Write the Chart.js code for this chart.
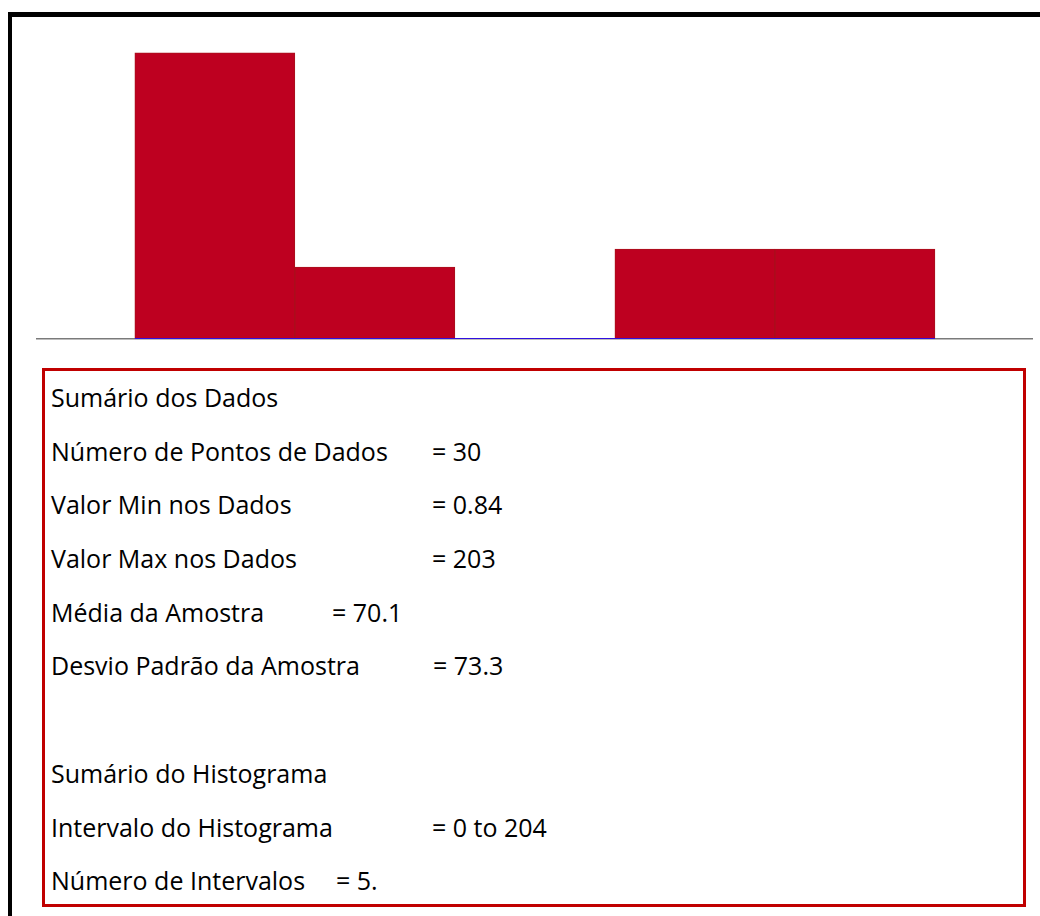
<!DOCTYPE html>
<html>
<head>
<meta charset="utf-8">
<script src="https://cdn.jsdelivr.net/npm/chart.js@4/dist/chart.umd.min.js"></script>
<style>
    html, body { margin: 0; padding: 0; background: #fff; width: 1040px; height: 916px; overflow: hidden; }
    #moldura { position: absolute; left: 8px; top: 12px; width: 1100px; height: 1000px;
        border-top: 5px solid #000; border-left: 4px solid #000; }
    #grafico { position: absolute; left: 36px; top: 17px; }
    #sumario { position: absolute; left: 42px; top: 368px; width: 978px; height: 533px;
        border: 3px solid #c00000; font-family: "Open Sans", sans-serif; font-size: 25px; color: #000; }
    .linha { position: relative; height: 53.7px; line-height: 53.7px; white-space: nowrap; }
    .rotulo { position: absolute; left: 6px; }
    .valor { position: absolute; }
</style>
</head>
<body>
<div id="moldura"></div>
<canvas id="grafico" width="997" height="324"></canvas>
<div id="sumario"></div>

<script>
// Limites das classes do histograma (0 a 204, 5 intervalos)
const limitesClasses = [0, 40.8, 81.6, 122.4, 163.2, 204];
const frequencias = [16, 4, 0, 5, 5];

// Sumário dos dados
const numeroPontos = 30;
const valorMin = '0.84';
const valorMax = '203';
const mediaAmostra = '70.1';
const desvioPadrao = '73.3';
const intervaloHistograma = '0 to 204';
const numeroIntervalos = '5.';

// linhas do quadro: [rótulo, valor, posição x do valor]
const linhasSumario = [
    ['Sumário dos Dados', '', 0],
    ['Número de Pontos de Dados', '= ' + numeroPontos, 387],
    ['Valor Min nos Dados', '= ' + valorMin, 387],
    ['Valor Max nos Dados', '= ' + valorMax, 387],
    ['Média da Amostra', '= ' + mediaAmostra, 287],
    ['Desvio Padrão da Amostra', '= ' + desvioPadrao, 388],
    ['', '', 0],
    ['Sumário do Histograma', '', 0],
    ['Intervalo do Histograma', '= ' + intervaloHistograma, 387],
    ['Número de Intervalos', '= ' + numeroIntervalos, 291]
];

document.addEventListener('DOMContentLoaded', () => {
    montarSumario();
    desenharHistograma();
});

function montarSumario() {
    const sumario = document.getElementById('sumario');
    linhasSumario.forEach(([rotulo, valor, x]) => {
        const div = document.createElement('div');
        div.className = 'linha';
        const r = document.createElement('span');
        r.className = 'rotulo';
        r.textContent = rotulo;
        div.appendChild(r);
        if (valor) {
            const v = document.createElement('span');
            v.className = 'valor';
            v.style.left = x + 'px';
            v.textContent = valor;
            div.appendChild(v);
        }
        sumario.appendChild(div);
    });
}

function desenharHistograma() {
    const centros = frequencias.map((f, i) => (limitesClasses[i] + limitesClasses[i + 1]) / 2);
    const ctx = document.getElementById('grafico').getContext('2d');
    new Chart(ctx, {
        type: 'bar',
        data: {
            datasets: [{
                // linha azul sob o intervalo do histograma
                type: 'line',
                data: [
                    { x: limitesClasses[0], y: 0 },
                    { x: limitesClasses[limitesClasses.length - 1], y: 0 }
                ],
                borderColor: '#3010e0',
                borderWidth: 1,
                pointRadius: 0,
                clip: 4,
                order: 0
            }, {
                data: frequencias.map((f, i) => ({ x: centros[i], y: f })),
                backgroundColor: '#be0020',
                borderColor: '#a8101c',
                borderWidth: 1,
                categoryPercentage: 1,
                barPercentage: 1,
                order: 1
            }]
        },
        options: {
            responsive: false,
            animation: false,
            devicePixelRatio: 1,
            layout: { padding: { top: 0, bottom: 2.5, left: 0, right: 0 } },
            plugins: {
                legend: { display: false },
                tooltip: { enabled: false }
            },
            scales: {
                x: {
                    type: 'linear',
                    offset: false,
                    min: -25.2,
                    max: 229,
                    afterBuildTicks: (scale) => {
                        scale.ticks = limitesClasses.map(v => ({ value: v }));
                    },
                    grid: { display: false, drawTicks: false },
                    ticks: { display: false },
                    border: { display: true, color: '#7a7a7a', width: 1.5 }
                },
                y: {
                    display: false,
                    min: 0,
                    max: 18
                }
            }
        }
    });
}
</script>
</body>
</html>
